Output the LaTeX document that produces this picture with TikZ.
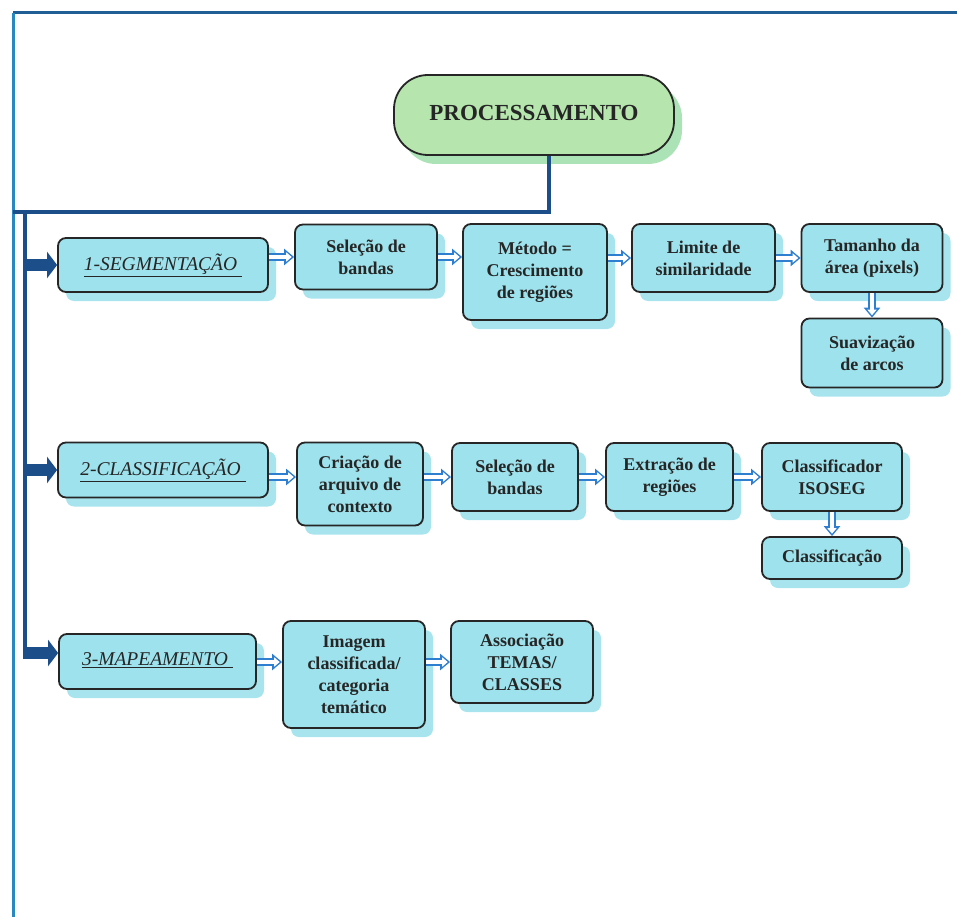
\documentclass[tikz,border=0pt]{standalone}
\usepackage{fontspec}
\setmainfont{Liberation Serif}
\usetikzlibrary{arrows.meta,shadows,calc}
\definecolor{boxcyan}{HTML}{9DE2EC}
\definecolor{shcyan}{HTML}{A8E4EE}
\definecolor{boxgreen}{HTML}{B6E6AE}
\definecolor{shgreen}{HTML}{ABE3B6}
\definecolor{navy}{HTML}{1C4F8A}
\definecolor{framebl}{HTML}{2A88C0}
\definecolor{framedk}{HTML}{1F5F96}
\definecolor{hollowbl}{HTML}{2F7FD0}
\definecolor{txt}{HTML}{262626}
\begin{document}
\begin{tikzpicture}[x=1pt,y=-1pt,
  box/.style={draw=black!85, line width=1.8pt, rounded corners=8pt, fill=boxcyan,
    align=center, text=txt, font=\fontsize{18}{22}\selectfont\bfseries, inner sep=2pt,
    drop shadow={shadow xshift=8pt, shadow yshift=-9pt, fill=shcyan, opacity=1}},
  headbox/.style={box, font=\fontsize{19.5}{23}\selectfont\itshape},
  procbox/.style={draw=black!85, line width=1.8pt, rounded corners=34pt, fill=boxgreen,
    align=center, text=txt, font=\fontsize{23}{27}\selectfont\bfseries,
    drop shadow={shadow xshift=8pt, shadow yshift=-9pt, fill=shgreen, opacity=1}},
  navyline/.style={draw=navy, line width=4pt},
  navyarrow/.style={draw=navy, line width=12pt, -{Triangle[length=10pt,width=26pt]}},
  hollow/.style={draw=hollowbl, line width=7.5pt, -{Triangle[length=10pt,width=16pt]},
    postaction={draw=white, line width=3.6pt, -{Triangle[length=5.5pt,width=9pt]}, shorten >=2.4pt}},
  sz/.style n args={2}{minimum width=#1, minimum height=#2}
]
\useasboundingbox (0,0) rectangle (957,917);
% frame
\draw[framedk, line width=3pt] (13,13) -- (957,13);
\draw[framebl, line width=3pt] (13,13) -- (13,917);

% main node
\node[procbox, sz={280pt}{80pt}] (proc) at (534,115) {\raisebox{5pt}{PROCESSAMENTO}};

\coordinate (jn) at (549,212);
\coordinate (frameL) at (13,212);
\coordinate (trunk) at (25,212);
\coordinate (trunkend) at (25,653);

% row 1
\node[headbox, sz={210pt}{54pt}] (seg) at (163,265) {\raisebox{5pt}{\underline{1-SEGMENTAÇÃO\hspace{5pt}}}};
\node[box, sz={142pt}{65pt}] (sel1) at (366,257) {Seleção de\\bandas};
\node[box, sz={144pt}{96pt}] (met) at (535,272) {Método =\\Crescimento\\de regiões};
\node[box, sz={143pt}{68pt}] (lim) at (703.5,258) {Limite de\\similaridade};
\node[box, sz={141pt}{68pt}] (tam) at (872,258) {Tamanho da\\área (pixels)};
\node[box, sz={141pt}{69pt}] (suav) at (872,353) {Suavização\\de arcos};

% row 2
\node[headbox, sz={210pt}{55pt}] (class) at (163,470) {\raisebox{5pt}{\underline{2-CLASSIFICAÇÃO\hspace{5pt}}}};
\node[box, sz={126pt}{83pt}] (cria) at (360,484) {Criação de\\arquivo de\\contexto};
\node[box, sz={126pt}{68pt}] (sel2) at (515,477) {Seleção de\\bandas};
\node[box, sz={127pt}{68pt}] (ext) at (669.5,477) {Extração de\\regiões};
\node[box, sz={140pt}{68pt}] (iso) at (832,477) {Classificador\\ISOSEG};
\node[box, sz={140pt}{42pt}] (clsf) at (832,558) {Classificação};

% row 3
\node[headbox, sz={197pt}{55pt}] (map) at (157.5,661.5) {\raisebox{5pt}{\underline{3-MAPEAMENTO\hspace{5pt}}}};
\node[box, sz={142pt}{107pt}] (img) at (354,674.5) {Imagem\\classificada/\\categoria\\temático};
\node[box, sz={142pt}{82pt}] (assoc) at (522,662) {Associação\\TEMAS/\\CLASSES};

% navy connectors
\draw[navyline] (jn |- proc.south) -- (jn) -- (frameL);
\draw[navyline] (trunk) -- ([yshift=-4pt]trunkend);
\draw[navyarrow] (trunk |- seg.west) -- (seg.west);
\draw[navyarrow] (trunk |- class.west) -- (class.west);
\draw[navyarrow] ([xshift=-2pt]trunkend) -- (trunkend -| map.west);

% hollow arrows row 1
\draw[hollow] (seg.east |- sel1.east) -- (sel1.west);
\draw[hollow] (sel1.east) -- (sel1.east -| met.west);
\draw[hollow] (met.east |- lim.west) -- (lim.west);
\draw[hollow] (lim.east) -- (tam.west);
\draw[hollow] (tam.south) -- (suav.north);
% row 2
\draw[hollow] (class.east |- sel2.west) -- (cria.west |- sel2.west);
\draw[hollow] (cria.east |- sel2.west) -- (sel2.west);
\draw[hollow] (sel2.east) -- (ext.west);
\draw[hollow] (ext.east) -- (iso.west);
\draw[hollow] (iso.south) -- (clsf.north);
% row 3
\draw[hollow] (map.east |- assoc.west) -- (img.west |- assoc.west);
\draw[hollow] (img.east |- assoc.west) -- (assoc.west);
\end{tikzpicture}
\end{document}
